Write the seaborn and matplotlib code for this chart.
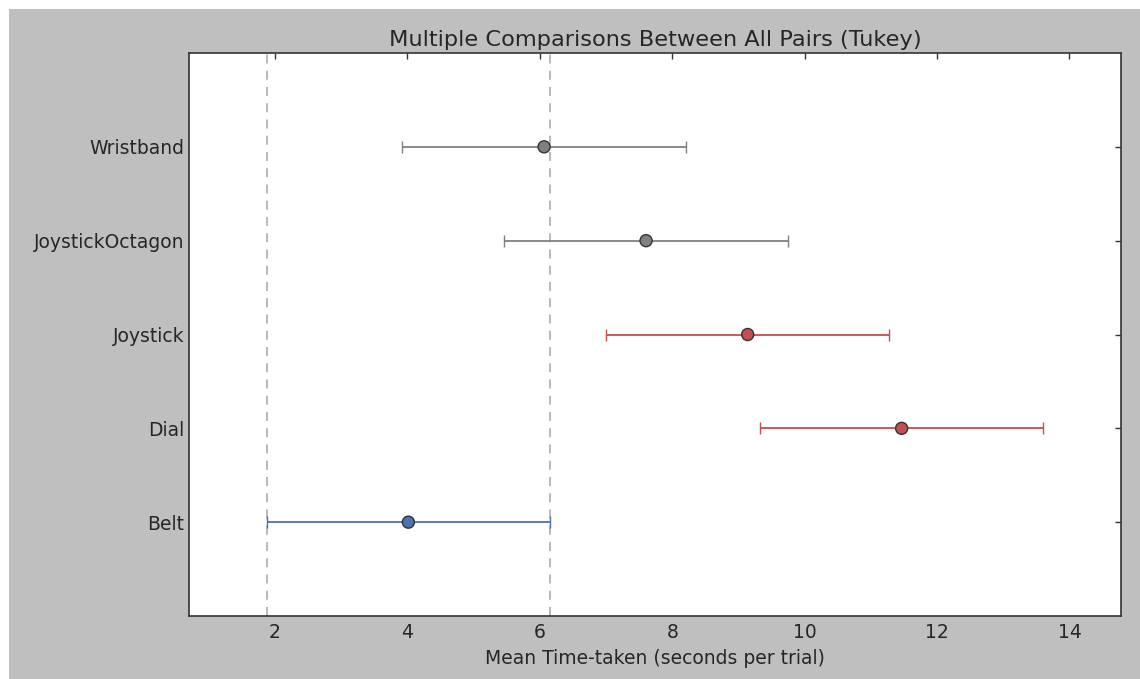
import numpy as np
import pandas as pd
import matplotlib
matplotlib.use("Agg")
import matplotlib.pyplot as plt
from matplotlib.patches import Rectangle
import seaborn as sns

# Group means and simultaneous confidence half-widths (Tukey HSD)
groups = ["Belt", "Dial", "Joystick", "JoystickOctagon", "Wristband"]
means = [4.015, 11.465, 9.14, 7.605, 6.065]
halfwidths = [2.14, 2.14, 2.14, 2.14, 2.14]
status = ["comparison", "different", "different", "same", "same"]
comparison_name = "Belt"

sns.set_style("white")
plt.rcParams.update({
    "font.family": ["DejaVu Sans"],
    "xtick.direction": "in",
    "ytick.direction": "in",
    "xtick.top": True,
    "ytick.right": True,
    "xtick.major.size": 4,
    "ytick.major.size": 4,
    "xtick.color": "#333333",
    "ytick.color": "#333333",
    "xtick.labelcolor": "#262626",
    "ytick.labelcolor": "#262626",
    "axes.edgecolor": "#333333",
    "text.color": "#262626",
    "axes.labelcolor": "#262626",
})
sns.set_color_codes("deep")

palette = {"comparison": "b", "different": "r", "same": "0.5"}

df = pd.DataFrame({
    "group": groups,
    "mean": means,
    "halfwidth": halfwidths,
    "status": status,
})
df["pos"] = np.arange(len(df))
df["lower"] = df["mean"] - df["halfwidth"]
df["upper"] = df["mean"] + df["halfwidth"]

fig = plt.figure(figsize=(11.4, 6.79), dpi=100, facecolor="white")
fig.patches.append(Rectangle((9 / 1140, 0), 1, 670 / 679, transform=fig.transFigure,
                             facecolor="#bfbfbf", edgecolor="none", zorder=-10))
ax = fig.add_axes([189 / 1140, 63 / 679, (1121 - 189) / 1140, (616 - 53) / 679])
ax.set_facecolor("white")

for _, row in df.iterrows():
    c = palette[row["status"]]
    ax.errorbar(row["mean"], row["pos"], xerr=row["halfwidth"], fmt="none",
                ecolor=c, elinewidth=1.3, capsize=4, capthick=1.0, zorder=2)

sns.scatterplot(data=df, x="mean", y="pos", hue="status", palette=palette,
                s=75, edgecolor="#333333", linewidth=1.0, legend=False, ax=ax, zorder=3)

comp = df[df["group"] == comparison_name].iloc[0]
ax.axvline(comp["lower"], linestyle="--", color="0.7", linewidth=1.3, dashes=(5, 4), zorder=1)
ax.axvline(comp["upper"], linestyle="--", color="0.7", linewidth=1.3, dashes=(5, 4), zorder=1)

lo, hi = df["lower"].min(), df["upper"].max()
pad = (hi - lo) / 10.0
ax.set_xlim(lo - pad, hi + pad)
ax.set_ylim(-1, len(df))
ax.set_yticks(df["pos"])
ax.set_yticklabels(df["group"])
ax.set_xticks([2, 4, 6, 8, 10, 12, 14])
ax.tick_params(labelsize=13.5, width=1)
ax.tick_params(axis="x", pad=5)
for sp in ax.spines.values():
    sp.set_linewidth(1.2)
    sp.set_visible(True)

ax.set_title("Multiple Comparisons Between All Pairs (Tukey)", fontsize=16.2, pad=5)
ax.set_xlabel("Mean Time-taken (seconds per trial)", fontsize=13.5, labelpad=5)
ax.set_ylabel("")

fig.savefig("out.png", dpi=100, facecolor=fig.get_facecolor())
